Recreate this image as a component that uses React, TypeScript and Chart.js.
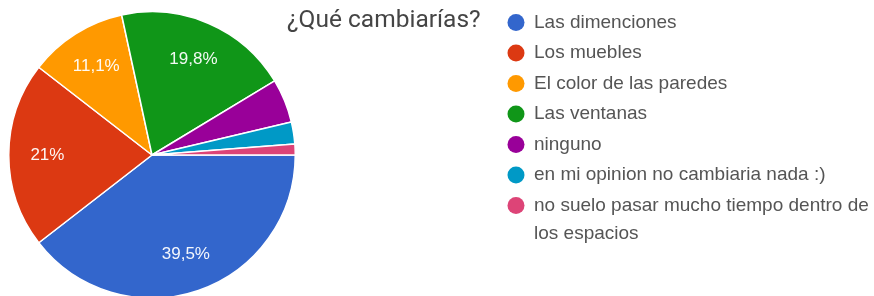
import React, { useEffect, useRef } from "react";
import { Chart, registerables } from "chart.js";

Chart.register(...registerables);

const TITLE = "¿Qué cambiarías?";
const CATEGORIES = [
  "Las dimenciones",
  "Los muebles",
  "El color de las paredes",
  "Las ventanas",
  "ninguno",
  "en mi opinion no cambiaria nada :)",
  "no suelo pasar mucho tiempo dentro de los espacios",
];
const COUNTS = [32, 17, 9, 16, 4, 2, 1];
const COLORS = ["#3366cc", "#dc3912", "#ff9900", "#109618", "#990099", "#0099c6", "#dd4477"];

const LABEL_FONT = "17px 'Liberation Sans', Arial, sans-serif";
const LEGEND_FONT = "19px 'Liberation Sans', Arial, sans-serif";
const TITLE_FONT = "24.5px Roboto, sans-serif";

function fmtPct(v: number, total: number): string {
  const p = (v / total) * 100;
  let s = p.toFixed(1);
  if (s.endsWith(".0")) s = s.slice(0, -2);
  return s.replace(".", ",") + "%";
}

const sliceLabels = {
  id: "sliceLabels",
  afterDatasetsDraw(chart: any) {
    const ctx = chart.ctx as CanvasRenderingContext2D;
    const meta = chart.getDatasetMeta(0);
    const data = chart.data.datasets[0].data as number[];
    const total = data.reduce((a, b) => a + b, 0);
    ctx.save();
    ctx.font = LABEL_FONT;
    ctx.fillStyle = "rgba(255,255,255,0.95)";
    ctx.textAlign = "center";
    ctx.textBaseline = "middle";
    meta.data.forEach((arc: any, i: number) => {
      if (data[i] / total < 0.05) return;
      const mid = (arc.startAngle + arc.endAngle) / 2;
      const d = arc.outerRadius * 0.73;
      ctx.fillText(fmtPct(data[i], total), arc.x + Math.cos(mid) * d, arc.y + Math.sin(mid) * d);
    });
    ctx.restore();
  },
};

const sideLegend = {
  id: "sideLegend",
  afterDraw(chart: any) {
    const ctx = chart.ctx as CanvasRenderingContext2D;
    ctx.save();
    ctx.font = TITLE_FONT;
    ctx.fillStyle = "#454545";
    ctx.textAlign = "left";
    ctx.textBaseline = "middle";
    ctx.fillText(TITLE, 287, 21);

    const cx = 516;
    const tx = 534;
    const rowH = 30.5;
    const lineH = 28;
    const maxW = chart.width - tx - 2;
    ctx.font = LEGEND_FONT;
    let y = 22.5;
    const labels = chart.data.labels as string[];
    labels.forEach((lab, i) => {
      ctx.fillStyle = COLORS[i];
      ctx.beginPath();
      ctx.arc(cx, y, 8.5, 0, Math.PI * 2);
      ctx.fill();
      ctx.fillStyle = "#555555";
      const words = lab.split(" ");
      const lines: string[] = [];
      let cur = "";
      words.forEach((w) => {
        const test = cur ? cur + " " + w : w;
        if (ctx.measureText(test).width > maxW && cur) {
          lines.push(cur);
          cur = w;
        } else cur = test;
      });
      lines.push(cur);
      lines.forEach((ln, k) => ctx.fillText(ln, tx, y + k * lineH));
      y += rowH + (lines.length - 1) * lineH;
    });
    ctx.restore();
  },
};

export default function App() {
  const ref = useRef<HTMLCanvasElement>(null);
  useEffect(() => {
    if (!ref.current) return;
    const chart = new Chart(ref.current, {
      type: "pie",
      data: {
        labels: CATEGORIES,
        datasets: [
          {
            data: COUNTS,
            backgroundColor: COLORS,
            borderColor: "#ffffff",
            borderWidth: 1.5,
          },
        ],
      },
      options: {
        responsive: false,
        animation: false,
        devicePixelRatio: 1,
        rotation: 90,
        layout: { padding: { left: 8, top: 11, right: 578, bottom: 1 } },
        plugins: { legend: { display: false }, tooltip: { enabled: false } },
      },
      plugins: [sliceLabels, sideLegend],
    });
    return () => chart.destroy();
  }, []);
  return (
    <div style={{ position: "absolute", left: 0, top: 0, width: 874, height: 296, overflow: "hidden", background: "#fff" }}>
      <canvas ref={ref} width={874} height={300} style={{ display: "block" }} />
    </div>
  );
}
